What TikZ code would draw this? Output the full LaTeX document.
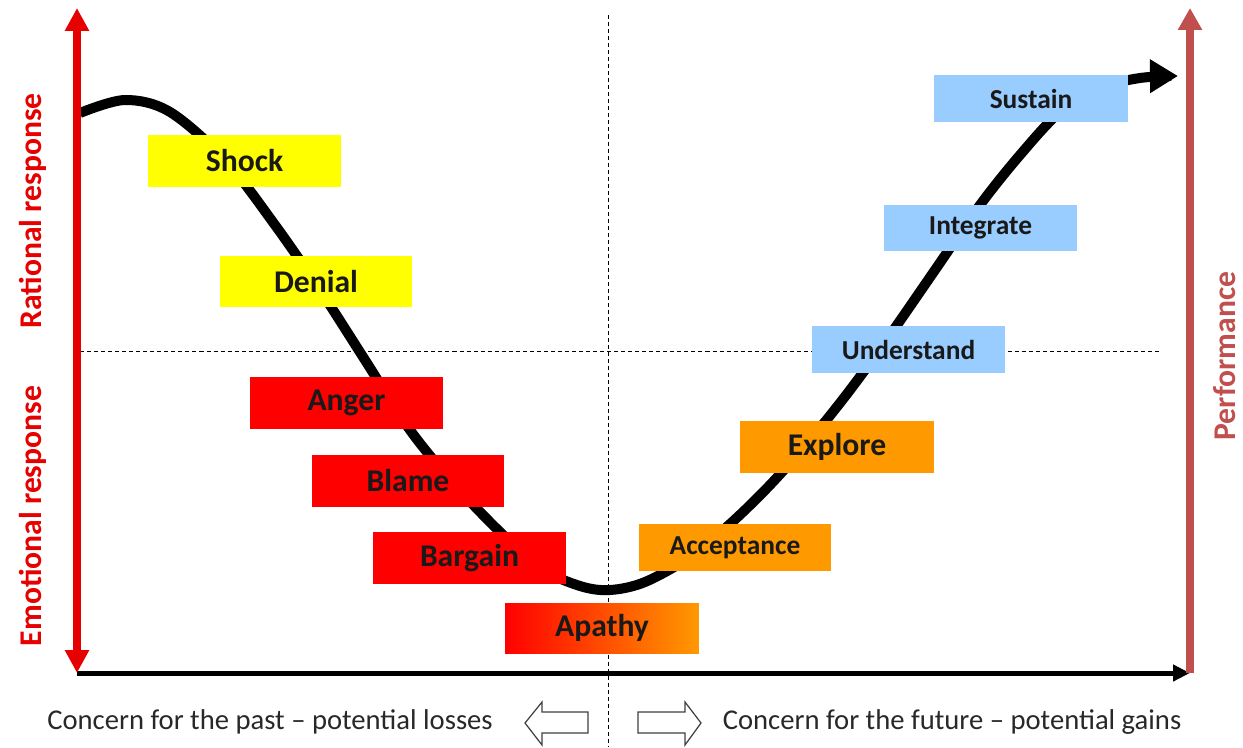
\documentclass[tikz,border=0pt]{standalone}
\usepackage{fontspec}
\setmainfont{Carlito}
\usetikzlibrary{arrows.meta}
\definecolor{axisred}{RGB}{230,0,0}
\definecolor{perfred}{RGB}{192,80,77}
\definecolor{stageyellow}{RGB}{255,255,0}
\definecolor{stagered}{RGB}{255,0,0}
\definecolor{stageorange}{RGB}{255,153,0}
\definecolor{stageblue}{RGB}{153,204,255}
\definecolor{notegray}{RGB}{40,40,40}
\tikzset{
	stage/.style={inner sep=0pt,minimum width=3.86cm,minimum height=1.04cm,text=black!90,font=\fontsize{18}{20}\selectfont\bfseries},
	smallstage/.style={stage,minimum height=0.94cm,font=\fontsize{15.6}{18}\selectfont\bfseries},
	sidelabel/.style={rotate=90,font=\fontsize{18}{20}\selectfont\bfseries},
	footnote/.style={text=notegray,font=\fontsize{16.3}{18}\selectfont},
	guide/.style={draw=black,line width=0.5pt,dash pattern=on 2.3pt off 1.7pt},
	hollow/.style={draw=black!75,fill=white,line width=0.7pt},
}

\begin{document}
\begin{tikzpicture}[x=0.02cm,y=-0.02cm]
	\useasboundingbox (0,0) rectangle (1243,747);
	\coordinate (origin) at (77,673);
	\coordinate (redtop) at (77,8);
	\coordinate (axisend) at (1190,673);
	\coordinate (perftop) at (1190,8);
	\coordinate (midtop) at (608,15);
	\coordinate (midbottom) at (608,747);
	\coordinate (splitleft) at (80,351);
	\coordinate (splitright) at (1160,351);

	\draw [guide] (midtop) -- (midbottom);
	\draw [guide] (splitleft) -- (splitright);

	\draw [line width=0.2cm,-{Triangle[length=0.56cm,width=0.64cm]}] plot [smooth,tension=0.55] coordinates {(80,113) (125,100) (170,112) (225,160) (275,225) (320,290) (365,360) (410,430) (455,485) (500,532) (540,568) (580,586) (610,590) (645,582) (690,557) (730,524) (770,485) (810,440) (850,390) (890,335) (935,270) (980,205) (1020,155) (1060,112) (1100,88) (1140,78) (1178,76)};

	\draw [line width=0.1cm,-{Triangle[length=0.34cm,width=0.32cm]}] (origin) -- (axisend);
	\draw [perfred,line width=0.15cm,-{Triangle[length=0.44cm,width=0.46cm]}] (axisend) -- (perftop);
	\draw [axisred,line width=0.16cm,{Triangle[length=0.46cm,width=0.46cm]}-{Triangle[length=0.46cm,width=0.46cm]}] (redtop) -- (origin);

	\node [stage,fill=stageyellow] (shock) at (244.5,161) {Shock};
	\node [stage,fill=stageyellow] (denial) at (316,281.5) {Denial};
	\node [stage,fill=stagered] (anger) at (346.5,403) {Anger};
	\node [stage,fill=stagered] (blame) at (408,481) {Blame};
	\node [stage,fill=stagered] (bargain) at (469.5,558) {Bargain};
	\node [stage,left color=stagered,right color=stageorange,minimum width=3.88cm,minimum height=1cm] (apathy) at (602,628) {Apathy};
	\node [smallstage,fill=stageorange] (acceptance) at (735,547.5) {Acceptance};
	\node [stage,fill=stageorange,minimum width=3.88cm] (explore) at (837,446.5) {Explore};
	\node [smallstage,fill=stageblue] (understand) at (908.5,349.5) {Understand};
	\node [smallstage,fill=stageblue,minimum height=0.92cm] (integrate) at (980.5,228) {Integrate};
	\node [smallstage,fill=stageblue,minimum width=3.88cm] (sustain) at (1031,98.5) {Sustain};

	\node [sidelabel,text=axisred] (rational) at (33,211) {Rational response};
	\node [sidelabel,text=axisred] (emotional) at (33,516) {Emotional response};
	\node [sidelabel,text=perfred] (performance) at (1225,356) {Performance};

	\node [footnote] (pastnote) at (270,722) {Concern for the past – potential losses};
	\node [footnote] (futurenote) at (952,722) {Concern for the future – potential gains};
	\draw [hollow] (588,712) -- (542,712) -- (542,702) -- (525,723) -- (542,745) -- (542,733) -- (588,733) -- cycle;
	\draw [hollow] (638,712) -- (685,712) -- (685,702) -- (701,723) -- (685,745) -- (685,733) -- (638,733) -- cycle;
\end{tikzpicture}
\end{document}
